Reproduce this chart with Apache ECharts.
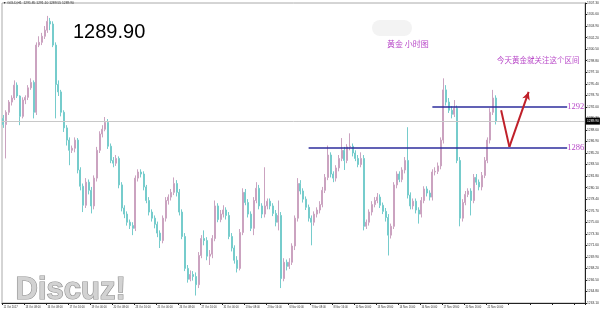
<!DOCTYPE html>
<html>
<head>
<meta charset="utf-8">
<script src="https://cdn.jsdelivr.net/npm/echarts@6/dist/echarts.min.js"></script>
<style>
html,body{margin:0;padding:0;background:#fff;}
#chart{width:600px;height:317px;}
</style>
</head>
<body>
<div id="chart"></div>
<script>
// Hourly-style gold candles, [open, close, low, high]
const candles = [
[1290.3,1289.4,1288.9,1290.8],[1289.4,1291.2,1284.4,1291.5],[1291.2,1292.7,1290.8,1293.0],[1292.7,1293.3,1292.2,1293.7],
[1293.3,1295.2,1293.0,1295.9],[1295.2,1293.6,1293.3,1295.6],[1293.6,1290.6,1289.3,1293.7],[1290.6,1293.0,1290.3,1293.4],
[1293.0,1293.4,1292.4,1293.7],[1293.4,1294.8,1293.0,1295.2],[1294.8,1295.6,1294.5,1296.2],[1295.6,1291.2,1290.3,1295.9],
[1291.2,1301.1,1290.8,1301.5],[1301.1,1301.5,1300.8,1302.4],[1301.5,1302.4,1301.1,1302.9],[1302.4,1303.3,1302.0,1303.9],
[1303.3,1304.6,1302.9,1305.4],[1304.6,1304.2,1303.3,1305.1],[1304.2,1301.1,1300.8,1304.6],[1301.1,1295.3,1290.3,1301.5],
[1295.3,1294.2,1293.6,1295.9],[1294.2,1291.2,1290.6,1294.5],[1291.2,1288.9,1288.3,1291.5],[1288.9,1287.1,1286.3,1289.3],
[1287.1,1285.6,1283.4,1287.5],[1285.6,1285.9,1285.2,1286.3],[1285.9,1287.1,1285.3,1287.5],[1287.1,1282.7,1282.2,1287.4],
[1282.7,1280.3,1279.7,1283.1],[1280.3,1277.5,1276.5,1280.7],[1277.5,1280.9,1277.1,1281.5],[1280.9,1279.7,1279.1,1281.3],
[1279.7,1277.4,1276.3,1280.2],[1277.4,1281.5,1276.9,1281.9],[1281.5,1285.6,1281.0,1286.1],[1285.6,1288.0,1285.2,1288.4],
[1288.0,1288.7,1287.5,1289.3],[1288.7,1289.7,1288.4,1290.5],[1289.7,1286.2,1285.8,1290.2],[1286.2,1284.1,1283.7,1286.6],
[1284.1,1283.7,1283.1,1284.6],[1283.7,1284.4,1283.3,1284.9],[1284.4,1280.5,1280.0,1284.7],[1280.5,1277.1,1276.6,1280.9],
[1277.1,1276.2,1275.6,1277.5],[1276.2,1275.0,1274.5,1276.6],[1275.0,1274.5,1274.0,1275.4],[1274.5,1274.1,1273.1,1275.0],
[1274.1,1281.5,1273.7,1281.9],[1281.5,1282.4,1281.0,1282.8],[1282.4,1282.1,1281.6,1282.8],[1282.1,1280.2,1279.7,1282.5],
[1280.2,1278.2,1277.8,1280.5],[1278.2,1276.5,1276.0,1278.7],[1276.5,1275.6,1275.1,1276.9],[1275.6,1274.7,1274.1,1276.0],
[1274.7,1273.4,1272.8,1275.1],[1273.4,1272.3,1271.2,1273.8],[1272.3,1275.6,1271.9,1276.0],[1275.6,1278.2,1275.1,1278.7],
[1278.2,1278.7,1277.6,1279.1],[1278.7,1279.4,1278.2,1279.9],[1279.4,1280.7,1279.0,1281.6],[1280.7,1279.4,1278.8,1281.2],
[1279.4,1276.5,1276.0,1279.9],[1276.5,1272.9,1272.5,1276.9],[1272.9,1268.2,1267.8,1273.4],[1268.2,1266.6,1266.1,1268.7],
[1266.6,1267.3,1266.3,1267.9],[1267.3,1267.0,1266.4,1267.8],[1267.0,1265.8,1264.2,1267.6],[1265.8,1270.1,1265.3,1270.6],
[1270.1,1272.6,1269.7,1273.1],[1272.6,1272.3,1271.6,1273.8],[1272.3,1270.0,1269.4,1272.8],[1270.0,1270.3,1268.7,1270.9],
[1270.3,1272.6,1269.7,1273.1],[1272.6,1277.4,1272.2,1278.2],[1277.4,1275.4,1275.0,1277.8],[1275.4,1276.2,1275.0,1276.8],
[1276.2,1276.8,1275.7,1277.5],[1276.8,1276.0,1275.4,1277.2],[1276.0,1272.9,1272.5,1276.5],[1272.9,1271.2,1270.7,1273.4],
[1271.2,1269.4,1268.9,1271.6],[1269.4,1268.2,1267.6,1270.0],[1268.2,1273.5,1267.9,1274.0],[1273.5,1279.4,1273.1,1280.0],
[1279.4,1277.9,1277.5,1279.9],[1277.9,1276.2,1275.7,1278.4],[1276.2,1274.1,1273.7,1276.6],[1274.1,1278.2,1273.1,1278.7],
[1278.2,1280.0,1277.8,1280.9],[1280.0,1277.4,1276.9,1280.5],[1277.4,1276.2,1275.6,1277.8],[1276.2,1277.4,1275.7,1283.1],
[1277.4,1278.1,1276.9,1278.5],[1278.1,1277.4,1276.9,1278.5],[1277.4,1276.3,1275.9,1277.8],[1276.3,1275.0,1274.4,1276.8],
[1275.0,1276.0,1273.8,1278.2],[1276.0,1266.7,1265.3,1276.5],[1266.7,1269.1,1266.3,1269.7],[1269.1,1268.5,1267.9,1269.5],
[1268.5,1269.1,1268.1,1269.7],[1269.1,1271.5,1268.7,1271.9],[1271.5,1275.6,1270.9,1276.0],[1275.6,1280.7,1275.1,1281.5],
[1280.7,1279.6,1279.1,1281.2],[1279.6,1278.4,1277.9,1280.0],[1278.4,1277.2,1276.8,1278.8],[1277.2,1275.6,1275.1,1277.6],
[1275.6,1275.0,1271.6,1276.0],[1275.0,1276.2,1274.5,1276.6],[1276.2,1276.8,1275.7,1277.2],[1276.8,1277.6,1276.3,1278.1],
[1277.6,1279.7,1277.2,1280.2],[1279.7,1281.6,1279.3,1282.1],[1281.6,1284.9,1281.2,1286.3],[1284.9,1282.1,1281.6,1285.3],
[1282.1,1281.5,1280.9,1282.5],[1281.5,1283.0,1281.0,1283.4],[1283.0,1284.4,1282.5,1284.9],[1284.4,1285.6,1284.0,1287.4],
[1285.6,1284.1,1282.7,1286.1],[1284.1,1286.1,1283.7,1286.5],[1286.1,1286.2,1285.6,1288.1],[1286.2,1285.2,1284.7,1286.6],
[1285.2,1284.4,1284.0,1285.6],[1284.4,1283.5,1283.1,1284.9],[1283.5,1284.4,1283.1,1285.3],[1284.4,1274.4,1273.8,1284.9],
[1274.4,1275.0,1274.0,1275.4],[1275.0,1276.5,1274.5,1276.9],[1276.5,1277.6,1276.0,1278.1],[1277.6,1278.2,1277.2,1278.7],
[1278.2,1278.7,1277.8,1279.3],[1278.7,1277.5,1277.1,1279.1],[1277.5,1276.6,1276.2,1277.9],[1276.6,1275.7,1275.1,1277.1],
[1275.7,1273.1,1270.1,1276.2],[1273.1,1274.4,1272.6,1274.8],[1274.4,1280.5,1274.0,1280.9],[1280.5,1282.1,1280.0,1282.5],
[1282.1,1281.3,1280.9,1282.5],[1281.3,1282.7,1280.9,1283.1],[1282.7,1284.1,1282.2,1284.6],[1284.1,1279.0,1278.5,1289.0],
[1279.0,1277.4,1276.9,1279.4],[1277.4,1278.1,1276.9,1278.5],[1278.1,1276.8,1276.3,1278.5],[1276.8,1276.2,1274.8,1277.2],
[1276.2,1278.2,1275.7,1278.7],[1278.2,1279.9,1277.8,1280.3],[1279.9,1279.3,1278.8,1280.3],[1279.3,1278.7,1278.2,1279.7],
[1278.7,1282.4,1278.2,1282.8],[1282.4,1282.5,1281.9,1283.1],[1282.5,1283.3,1282.1,1283.8],[1283.3,1287.1,1282.8,1287.5],
[1287.1,1294.5,1286.6,1296.2],[1294.5,1292.7,1292.2,1295.2],[1292.7,1291.5,1291.1,1293.3],[1291.5,1290.9,1290.3,1292.1],
[1290.9,1291.8,1290.5,1293.0],[1291.8,1284.1,1283.7,1292.2],[1284.1,1275.6,1274.4,1284.6],[1275.6,1277.9,1275.1,1278.4],
[1277.9,1279.1,1277.5,1279.6],[1279.1,1279.6,1278.7,1280.0],[1279.6,1278.2,1276.0,1280.0],[1278.2,1281.6,1277.8,1282.1],
[1281.6,1280.9,1280.5,1282.1],[1280.9,1280.2,1279.7,1281.3],[1280.2,1281.9,1279.7,1282.4],[1281.9,1284.1,1281.5,1284.6],
[1284.1,1287.1,1283.7,1287.5],[1287.1,1291.2,1286.6,1291.8],[1291.2,1293.3,1290.8,1294.5],[1293.3,1289.9,1289.4,1293.7]
];
const emptyBarsRight = 32;
const xTickLabels = ["11 Oct 2017","13 Oct 08:00","16 Oct 08:00","17 Oct 16:00","19 Oct 00:00","20 Oct 08:00",
  "23 Oct 16:00","25 Oct 00:00","26 Oct 08:00","27 Oct 16:00","31 Oct 00:00","1 Nov 08:00","2 Nov 16:00",
  "6 Nov 00:00","7 Nov 08:00","8 Nov 16:00","10 Nov 00:00","13 Nov 08:00","14 Nov 16:00","16 Nov 00:00",
  "17 Nov 08:00","20 Nov 16:00","22 Nov 00:00"];
const labelEvery = 8;
const lastPrice = 1289.90;
const resistance = 1292;
const support = 1286;
const yMin = 1263.1, yMax = 1307.3, yStep = 1.7;
const infoLine = "\u25BC GOLD,H1  1291.85 1291.10 1289.55 1289.90";
const titleText = "1289.90";
const noteChart = "黄金 小时图";
const noteRange = "今天黄金就关注这个区间";

const categories = [];
for (let i = 0; i < candles.length + emptyBarsRight; i++) categories.push(String(i));

const chart = echarts.init(document.getElementById('chart'), null, {renderer: 'canvas'});
const purple = '#b848c8';
const option = {
  animation: false,
  backgroundColor: '#ffffff',
  grid: {left: 2, right: 15, top: 3, bottom: 14, show: true, borderColor: '#aaaaaa', borderWidth: 1,
         containLabel: false, outerBoundsMode: 'none'},
  xAxis: {
    type: 'category', data: categories, boundaryGap: true,
    axisLine: {lineStyle: {color: '#222', width: 1}},
    axisTick: {show: true, length: 2, interval: (i) => i % labelEvery === 0, lineStyle: {color: '#222'}},
    axisLabel: {
      interval: (i) => i % labelEvery === 0 && i / labelEvery < xTickLabels.length,
      formatter: (v, i) => xTickLabels[Math.round(Number(v) / labelEvery)] || '',
      fontSize: 2.7, color: '#333', align: 'left', margin: 3, fontFamily: 'Liberation Sans',
      hideOverlap: false, showMinLabel: true
    },
    splitLine: {show: false}
  },
  yAxis: {
    type: 'value', position: 'right', min: yMin, max: yMax, interval: yStep,
    axisLine: {show: true, lineStyle: {color: '#222', width: 1}},
    axisTick: {show: true, length: 2, lineStyle: {color: '#222'}},
    axisLabel: {fontSize: 3.3, color: '#333', margin: 2, formatter: (v) => v.toFixed(2), fontFamily: 'Liberation Sans'},
    splitLine: {show: false}
  },
  series: [{
    type: 'candlestick',
    data: candles,
    barWidth: 1.5,
    itemStyle: {color: '#cba3c0', color0: '#76cccc', borderColor: '#cba3c0', borderColor0: '#76cccc', borderWidth: 1},
    markLine: {
      silent: true, animation: false, symbol: ['none', 'none'],
      data: [
        {yAxis: lastPrice, lineStyle: {color: '#c8c8c8', width: 1, type: 'solid'},
         label: {show: true, position: 'end', formatter: lastPrice.toFixed(2), backgroundColor: '#000', color: '#fff',
                 fontSize: 3.3, padding: [2, 1], distance: 1}},
        [{coord: [156, resistance], lineStyle: {color: '#2c2c9c', width: 1.5, type: 'solid'},
          label: {show: true, position: 'end', formatter: String(resistance), color: purple, fontSize: 8.5, distance: 0, fontFamily: 'Liberation Serif'}},
         {coord: [205, resistance]}],
        [{coord: [111, support], lineStyle: {color: '#2c2c9c', width: 1.5, type: 'solid'},
          label: {show: true, position: 'end', formatter: String(support), color: purple, fontSize: 8.5, distance: 0, fontFamily: 'Liberation Serif'}},
         {coord: [205, support]}],
        [{coord: [181, 1291.5], lineStyle: {color: '#c0202a', width: 2, type: 'solid'}, label: {show: false}},
         {coord: [184, 1286.1]}],
        [{coord: [184, 1286.1], symbol: 'none', lineStyle: {color: '#c0202a', width: 2, type: 'solid'}, label: {show: false}},
         {coord: [191, 1294.2], symbol: 'arrow', symbolSize: [6, 8]}]
      ]
    }
  }],
  graphic: [
    {type: 'text', left: 3, top: 2, style: {text: infoLine, fontSize: 3.3, fill: '#333', fontFamily: 'Liberation Sans'}},
    {type: 'text', left: 73, top: 22, style: {text: titleText, fontSize: 20, fill: '#000', fontFamily: 'Liberation Sans'}},
    {type: 'rect', left: 372, top: 20, shape: {width: 40, height: 16, r: 8}, style: {fill: '#f3f3f3'}},
    {type: 'text', left: 387, top: 40, style: {text: noteChart, fontSize: 8, fill: purple, fontFamily: 'Noto Sans CJK SC'}},
    {type: 'text', left: 497, top: 56, style: {text: noteRange, fontSize: 7.5, fill: purple, fontFamily: 'Noto Sans CJK SC'}},
    {type: 'text', left: 15, top: 274, style: {text: 'Discuz!', fontSize: 31, fontWeight: 'bold', fill: '#d2d2d2',
      stroke: '#8f8f8f', lineWidth: 1.2, fontFamily: 'Liberation Sans'}}
  ]
};
chart.setOption(option);
</script>
</body>
</html>
